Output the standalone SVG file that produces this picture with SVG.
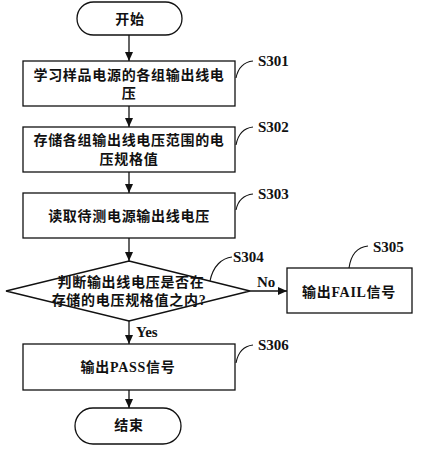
<svg xmlns="http://www.w3.org/2000/svg" width="422" height="450" viewBox="0 0 422 450">
<style>
.s{fill:#fff;stroke:#111;stroke-width:1.3}
.t{font-family:"Liberation Serif","Noto Sans CJK SC",serif;font-weight:bold;font-size:14px;fill:#111;letter-spacing:0.7px;text-anchor:middle}
.l{font-family:"Liberation Serif","Noto Sans CJK SC",serif;font-weight:bold;font-size:15px;fill:#111}
.c{fill:none;stroke:#111;stroke-width:1.1}
.e{fill:none;stroke:#111;stroke-width:1.3}
</style>
<defs>
<marker id="a" markerWidth="9" markerHeight="8" refX="9" refY="4" orient="auto" markerUnits="userSpaceOnUse">
<path d="M0,0 L9,4 L0,8 Z" fill="#111"/>
</marker>
</defs>
<rect width="422" height="450" fill="#fff"/>
<g id="start">
<rect class="s" x="77" y="2" width="105" height="33" rx="16.5"/>
<text class="t" x="130" y="24">开始</text>
</g>
<g id="s301">
<rect class="s" x="23" y="61" width="212" height="45"/>
<text class="t" x="129" y="80">学习样品电源的各组输出线电</text>
<text class="t" x="129" y="98">压</text>
<path class="c" d="M236,78 C238,68 244,62 253,61"/>
<text class="l" x="258" y="66">S301</text>
</g>
<g id="s302">
<rect class="s" x="23" y="127" width="212" height="45"/>
<text class="t" x="129" y="145">存储各组输出线电压范围的电</text>
<text class="t" x="129" y="164">压规格值</text>
<path class="c" d="M236,145 C238,134 244,128 253,127"/>
<text class="l" x="258" y="132">S302</text>
</g>
<g id="s303">
<rect class="s" x="23" y="193" width="212" height="45"/>
<text class="t" x="129" y="221">读取待测电源输出线电压</text>
<path class="c" d="M236,210 C238,200 244,195 253,194"/>
<text class="l" x="258" y="199">S303</text>
</g>
<g id="s304">
<polygon class="s" points="129,261 250,291 129,321 6,291"/>
<text class="t" x="131" y="287">判断输出线电压是否在</text>
<text class="t" x="129" y="305">存储的电压规格值之内?</text>
<path class="c" d="M210,281 C213,266 222,258 232,257"/>
<text class="l" x="233" y="262">S304</text>
</g>
<g id="s305">
<rect class="s" x="287" y="268" width="125" height="45"/>
<text class="t" x="349" y="297">输出FAIL信号</text>
<path class="c" d="M349,268 C351,254 358,247 368,246"/>
<text class="l" x="373" y="252">S305</text>
</g>
<g id="s306">
<rect class="s" x="23" y="344" width="212" height="46"/>
<text class="t" x="128" y="372">输出PASS信号</text>
<path class="c" d="M236,363 C238,352 244,346 253,345"/>
<text class="l" x="258" y="350">S306</text>
</g>
<g id="end">
<rect class="s" x="75" y="408" width="106" height="36" rx="18"/>
<text class="t" x="129" y="430">结束</text>
</g>
<g id="connectors">
<line class="e" x1="129" y1="35" x2="129" y2="61" marker-end="url(#a)"/>
<line class="e" x1="129" y1="106" x2="129" y2="127" marker-end="url(#a)"/>
<line class="e" x1="129" y1="172" x2="129" y2="193" marker-end="url(#a)"/>
<line class="e" x1="129" y1="238" x2="129" y2="261" marker-end="url(#a)"/>
<line class="e" x1="250" y1="291" x2="287" y2="291" marker-end="url(#a)"/>
<line class="e" x1="129" y1="321" x2="129" y2="344" marker-end="url(#a)"/>
<line class="e" x1="129" y1="390" x2="129" y2="408" marker-end="url(#a)"/>
<text class="l" x="257" y="287">No</text>
<text class="l" x="136" y="337">Yes</text>
</g>
</svg>
